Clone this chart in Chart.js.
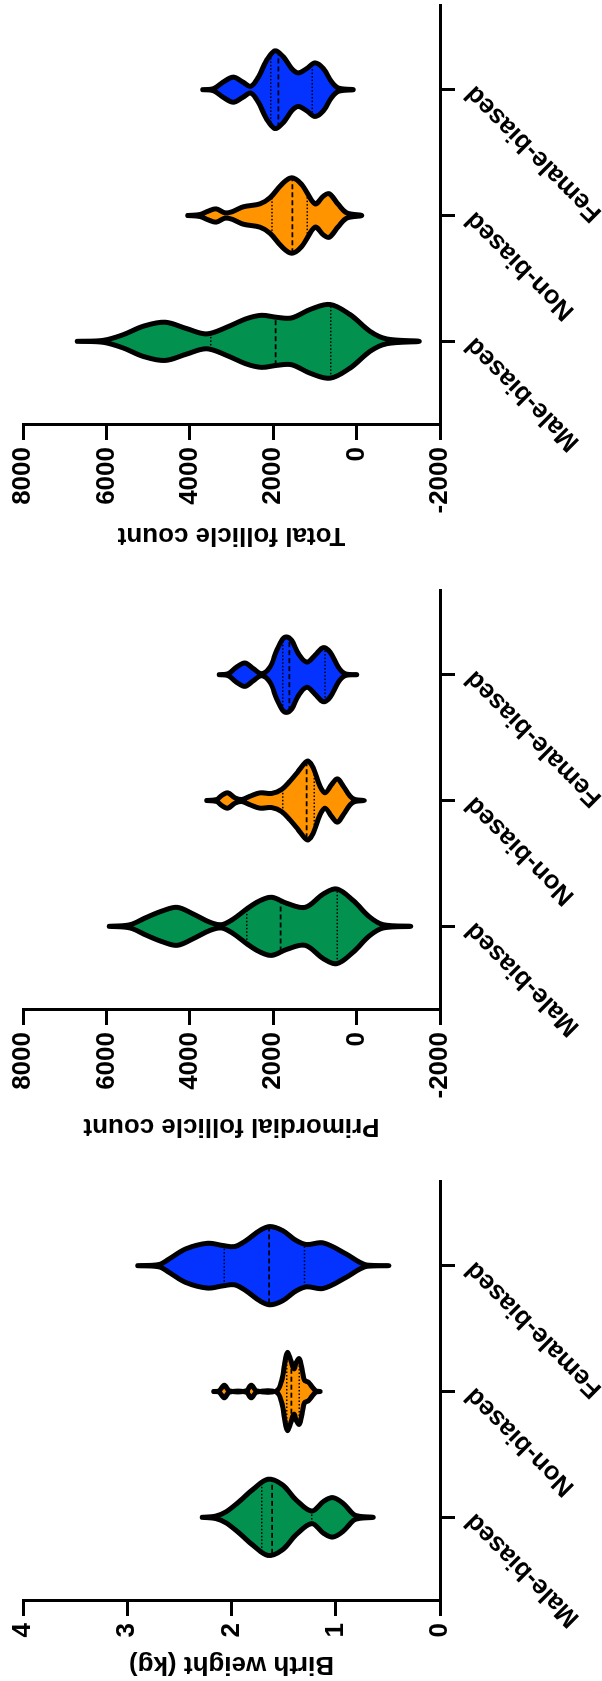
<!DOCTYPE html>
<html>
<head>
<meta charset="utf-8">
<script src="https://cdn.jsdelivr.net/npm/chart.js@4.4.1/dist/chart.umd.min.js"></script>
<style>
html,body{margin:0;padding:0;background:#fff;overflow:hidden;width:602px;height:1681px;}
#stage{position:absolute;left:0;top:0;width:1681px;height:602px;transform-origin:0 0;transform:translateY(1681px) rotate(-90deg);}
#stage canvas{position:absolute;top:0;}
</style>
</head>
<body>
<div id="stage">
<canvas id="c1" width="531" height="602" style="left:4px"></canvas>
<canvas id="c2" width="584" height="602" style="left:542px"></canvas>
<canvas id="c3" width="548" height="602" style="left:1133px"></canvas>
</div>
<script>
// ---------- data ----------
const categories = ['Male-biased', 'Non-biased', 'Female-biased'];
const groupColors = ['#03914F', '#FF9300', '#0433FF'];

// Birth weight (kg): violin outline knots (value, half-width in category units)
const bwMaleV = [2.28, 2.15, 2.05, 1.92, 1.80, 1.65, 1.51, 1.38, 1.23, 1.12, 1.03, 0.93, 0.83, 0.77, 0.64];
const bwMaleW = [0, 0.01, 0.045, 0.13, 0.218, 0.303, 0.258, 0.138, 0.05, 0.125, 0.157, 0.112, 0.024, 0.008, 0];
const bwNonV = [2.17, 2.12, 2.07, 2.02, 1.86, 1.81, 1.76, 1.57, 1.52, 1.48, 1.46, 1.43, 1.40, 1.38, 1.35, 1.32, 1.30, 1.26, 1.22, 1.19, 1.15];
const bwNonW = [0, 0.005, 0.05, 0.005, 0.005, 0.05, 0.005, 0.005, 0.085, 0.27, 0.31, 0.245, 0.18, 0.23, 0.26, 0.165, 0.09, 0.072, 0.03, 0.005, 0];
const bwFemV = [2.90, 2.69, 2.60, 2.44, 2.23, 2.08, 1.97, 1.86, 1.73, 1.63, 1.51, 1.38, 1.28, 1.12, 0.90, 0.77, 0.70, 0.49];
const bwFemW = [0, 0.01, 0.053, 0.133, 0.178, 0.16, 0.152, 0.2, 0.279, 0.311, 0.279, 0.2, 0.168, 0.181, 0.093, 0.027, 0.005, 0];
const bwMed = [1.61, 1.425, 1.64];
const bwMedW = [0.29, 0.24, 0.30];
const bwQ3 = [1.71, 1.47, 2.07];
const bwQ3W = [0.27, 0.27, 0.155];
const bwQ1 = [1.23, 1.35, 1.30];
const bwQ1W = [0.045, 0.25, 0.165];

// Primordial follicle count
const pfMaleV = [5930, 5434, 5034, 4635, 4300, 3916, 3515, 3235, 2957, 2635, 2316, 2036, 1677, 1237, 798, 477, 79, -321, -640, -1297];
const pfMaleW = [0, 0.013, 0.072, 0.125, 0.151, 0.098, 0.032, 0.013, 0.058, 0.138, 0.204, 0.231, 0.183, 0.151, 0.257, 0.297, 0.204, 0.072, 0.013, 0];
const pfNonV = [3595, 3355, 3235, 3091, 2916, 2756, 2556, 2316, 2036, 1796, 1597, 1398, 1237, 1158, 1038, 878, 758, 597, 463, 319, 158, 38, -185];
const pfNonW = [0, 0.008, 0.04, 0.061, 0.021, 0.008, 0.034, 0.061, 0.056, 0.088, 0.154, 0.233, 0.30, 0.313, 0.26, 0.114, 0.061, 0.127, 0.172, 0.114, 0.034, 0.008, 0];
const pfFemV = [3292, 3076, 2876, 2676, 2477, 2276, 2077, 1916, 1782, 1677, 1557, 1397, 1197, 998, 798, 638, 439, 278, -2];
const pfFemW = [0, 0.008, 0.061, 0.093, 0.048, 0.008, 0.061, 0.194, 0.279, 0.30, 0.273, 0.167, 0.10, 0.154, 0.215, 0.18, 0.061, 0.008, 0];
const pfMed = [1820, 1197, 1614];
const pfMedW = [0.20, 0.30, 0.29];
const pfQ3 = [2635, 1772, 1772];
const pfQ3W = [0.135, 0.09, 0.275];
const pfQ1 = [463, 1014, 758];
const pfQ1W = [0.29, 0.25, 0.21];

// Total follicle count
const tfMaleV = [6698, 6074, 5595, 5115, 4595, 4074, 3595, 3115, 2635, 2276, 1916, 1557, 1117, 638, 158, -321, -722, -1504];
const tfMaleW = [0, 0.008, 0.053, 0.12, 0.152, 0.101, 0.059, 0.112, 0.181, 0.207, 0.191, 0.186, 0.253, 0.293, 0.213, 0.08, 0.019, 0];
const tfNonV = [4050, 3755, 3556, 3372, 3156, 2995, 2717, 2316, 2077, 1796, 1557, 1317, 998, 798, 655, 439, 237, -122];
const tfNonW = [0, 0.008, 0.035, 0.053, 0.021, 0.029, 0.069, 0.093, 0.141, 0.247, 0.30, 0.247, 0.093, 0.154, 0.173, 0.088, 0.021, 0];
const tfFemV = [3691, 3436, 3196, 2957, 2731, 2539, 2357, 2156, 1957, 1757, 1557, 1398, 1197, 998, 798, 597, 439, 79];
const tfFemW = [0, 0.008, 0.061, 0.10, 0.061, 0.027, 0.10, 0.234, 0.309, 0.261, 0.168, 0.133, 0.168, 0.213, 0.168, 0.061, 0.013, 0];
const tfMed = [1940, 1542, 1877];
const tfMedW = [0.19, 0.30, 0.30];
const tfQ3 = [3499, 2029, 2060];
const tfQ3W = [0.06, 0.15, 0.26];
const tfQ1 = [621, 1182, 1062];
const tfQ1W = [0.29, 0.20, 0.21];

const bwTicks = {min: 0, max: 4, step: 1};
const countTicks = {min: -2000, max: 8000, step: 2000};

// ---------- chart building ----------
const FONT = "'Liberation Sans', Arial, Helvetica, sans-serif";
const tickFont = {family: FONT, size: 26, weight: 'bold'};

function violinPoints(center, vals, widths) {
  const pts = [];
  for (let k = 0; k < vals.length; k++) pts.push({x: center + widths[k], y: vals[k]});
  for (let k = vals.length - 2; k >= 0; k--) pts.push({x: center - widths[k], y: vals[k]});
  return pts;
}

function segLine(center, val, half, dash, width) {
  return {
    data: [{x: center - half, y: val}, {x: center + half, y: val}],
    borderColor: '#000', borderWidth: width, borderDash: dash,
    pointRadius: 0, fill: false, tension: 0, order: 1
  };
}

function makeChart(id, cfg) {
  const datasets = [];
  cfg.violins.forEach((vi, i) => {
    datasets.push({
      data: violinPoints(i, vi[0], vi[1]),
      fill: 'shape',
      backgroundColor: groupColors[i],
      borderColor: '#000',
      borderWidth: 5,
      borderJoinStyle: 'round',
      borderCapStyle: 'round',
      tension: 0.35,
      pointRadius: 0,
      order: 0
    });
  });
  for (let i = 0; i < 3; i++) {
    datasets.push(segLine(i, cfg.med[i], cfg.medW[i], [5, 3], 1.8));
    datasets.push(segLine(i, cfg.q3[i], cfg.q3W[i], [1.5, 2], 1.4));
    datasets.push(segLine(i, cfg.q1[i], cfg.q1W[i], [1.5, 2], 1.4));
  }
  return new Chart(document.getElementById(id), {
    type: 'line',
    data: {datasets},
    options: {
      responsive: false,
      animation: false,
      events: [],
      layout: {padding: {left: 0, right: cfg.padRight, top: 23, bottom: 0}},
      plugins: {
        legend: {display: false},
        tooltip: {enabled: false},
        filler: {drawTime: 'beforeDatasetsDraw'}
      },
      scales: {
        x: {
          type: 'linear',
          min: -0.665,
          max: 2.665,
          afterBuildTicks: (s) => { s.ticks = [0, 1, 2].map(v => ({value: v})); },
          afterFit: (s) => { s.height = 162; },
          grid: {drawOnChartArea: false, drawTicks: true, tickLength: 15, lineWidth: 3, color: '#000'},
          border: {display: true, color: '#000', width: 3},
          ticks: {
            autoSkip: false, minRotation: 45, maxRotation: 45, padding: 4,
            color: '#000', font: tickFont,
            callback: (v) => categories[v]
          }
        },
        y: {
          type: 'linear',
          min: cfg.ticks.min,
          max: cfg.ticks.max,
          afterFit: (s) => { s.width = cfg.yWidth; },
          grid: {drawOnChartArea: false, drawTicks: true, tickLength: 15, lineWidth: 3, color: '#000'},
          border: {display: true, color: '#000', width: 3},
          ticks: {
            stepSize: cfg.ticks.step, padding: 7, color: '#000', font: tickFont,
            callback: (v) => String(v)
          },
          title: {
            display: true, text: cfg.title, color: '#000', padding: 0,
            font: {family: FONT, size: 26, weight: 'bold', lineHeight: 1}
          }
        }
      }
    }
  });
}

makeChart('c1', {
  title: 'Birth weight (kg)', ticks: bwTicks, yWidth: 76, padRight: 36,
  violins: [[bwMaleV, bwMaleW], [bwNonV, bwNonW], [bwFemV, bwFemW]],
  med: bwMed, medW: bwMedW, q3: bwQ3, q3W: bwQ3W, q1: bwQ1, q1W: bwQ1W
});
makeChart('c2', {
  title: 'Primordial follicle count', ticks: countTicks, yWidth: 129, padRight: 36,
  violins: [[pfMaleV, pfMaleW], [pfNonV, pfNonW], [pfFemV, pfFemW]],
  med: pfMed, medW: pfMedW, q3: pfQ3, q3W: pfQ3W, q1: pfQ1, q1W: pfQ1W
});
makeChart('c3', {
  title: 'Total follicle count', ticks: countTicks, yWidth: 123, padRight: 6,
  violins: [[tfMaleV, tfMaleW], [tfNonV, tfNonW], [tfFemV, tfFemW]],
  med: tfMed, medW: tfMedW, q3: tfQ3, q3W: tfQ3W, q1: tfQ1, q1W: tfQ1W
});
</script>
</body>
</html>
